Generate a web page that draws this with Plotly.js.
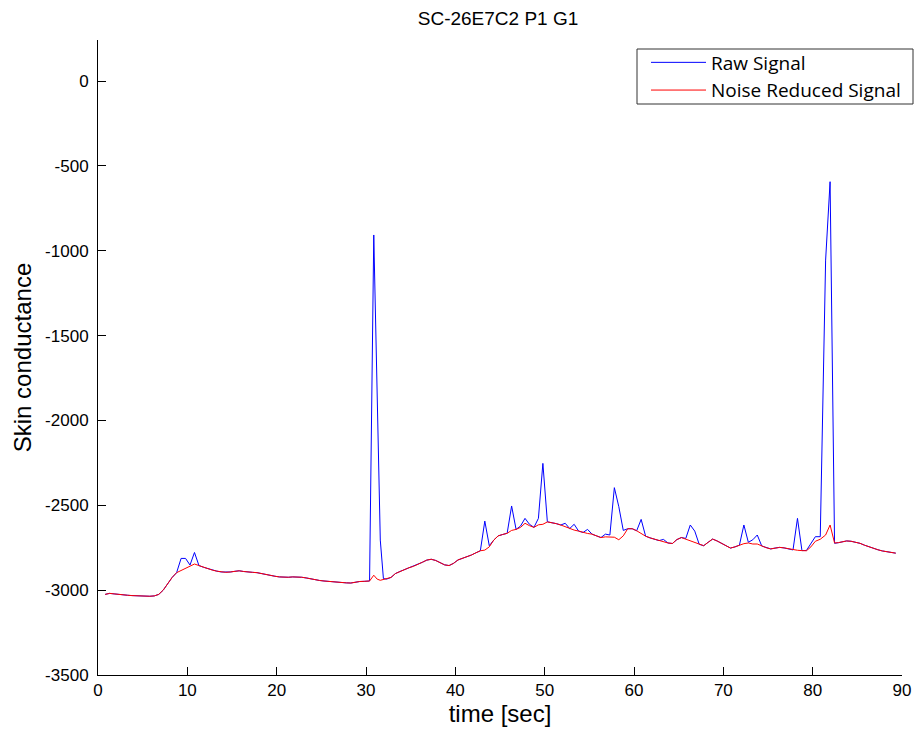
<!DOCTYPE html>
<html>
<head>
<meta charset="utf-8">
<script src="https://cdn.plot.ly/plotly-3.0.1.min.js"></script>
<style>
  html, body { margin: 0; padding: 0; background: #ffffff; }
  #chart { width: 920px; height: 731px; }
</style>
</head>
<body>
<div id="chart"></div>
<script>
// Sample times (seconds)
const timeSec = [0.8,1.3,1.8,2.3,2.8,3.3,3.8,4.3,4.8,5.3,
  5.8,6.3,6.8,7.3,7.8,8.3,8.8,9.3,9.8,10.3,
  10.8,11.3,11.8,12.3,12.8,13.3,13.8,14.3,14.8,15.3,
  15.8,16.3,16.8,17.3,17.8,18.3,18.8,19.3,19.8,20.3,
  20.8,21.3,21.8,22.3,22.8,23.3,23.8,24.3,24.8,25.3,
  25.8,26.3,26.8,27.3,27.8,28.3,28.8,29.3,29.8,
  30.4,30.87,31.25,31.6,31.95,
  32.3,32.8,33.3,33.8,34.3,34.8,35.3,35.8,36.3,36.8,
  37.3,37.8,38.3,38.8,39.3,39.8,40.3,40.8,41.3,41.8,
  42.3,42.8,43.3,43.8,44.3,44.8,45.3,45.8,46.3,46.8,
  47.3,47.8,48.3,48.8,49.3,49.8,50.3,50.8,51.3,51.8,
  52.3,52.8,53.3,53.8,54.3,54.8,55.3,55.8,56.3,56.8,
  57.3,57.8,58.3,58.8,59.3,59.8,60.3,60.8,61.3,61.8,
  62.3,62.8,63.3,63.8,64.3,64.8,65.3,65.8,66.3,66.8,
  67.3,67.8,68.3,68.8,69.3,69.8,70.3,70.8,71.3,71.8,
  72.3,72.8,73.3,73.8,74.3,74.8,75.3,75.8,76.3,76.8,
  77.3,77.8,78.3,78.8,79.3,79.8,
  80.3,80.85,81.45,81.95,82.45,82.9,
  83.3,83.8,84.3,84.8,85.3,85.8,86.3,86.8,87.3,87.8,
  88.3,88.8,89.3];

// Raw skin conductance signal
const rawSignal = [-3025,-3019,-3022,-3026,-3029,-3030,-3032,-3034,-3035,-3035,
  -3036,-3034,-3025,-3000,-2962,-2925,-2897,-2813,-2813,-2852,
  -2778,-2855,-2865,-2874,-2882,-2888,-2893,-2895,-2893,-2889,
  -2886,-2890,-2894,-2895,-2897,-2903,-2910,-2915,-2918,-2922,
  -2925,-2924,-2922,-2921,-2924,-2928,-2934,-2939,-2943,-2946,
  -2949,-2951,-2953,-2955,-2957,-2958,-2953,-2949,-2948,
  -2946,-907,-1900,-2705,-2932,
  -2935,-2925,-2902,-2890,-2880,-2868,-2860,-2850,-2836,-2823,
  -2818,-2825,-2838,-2851,-2855,-2842,-2822,-2812,-2806,-2793,
  -2780,-2768,-2593,-2738,-2705,-2680,-2672,-2665,-2504,-2642,
  -2622,-2577,-2612,-2630,-2577,-2253,-2597,-2601,-2608,-2616,
  -2606,-2637,-2612,-2652,-2660,-2642,-2670,-2680,-2690,-2670,
  -2675,-2396,-2508,-2648,-2638,-2638,-2650,-2583,-2682,-2692,
  -2700,-2708,-2701,-2722,-2725,-2702,-2690,-2695,-2616,-2652,
  -2730,-2738,-2718,-2699,-2710,-2725,-2740,-2752,-2745,-2735,
  -2616,-2718,-2703,-2675,-2740,-2750,-2757,-2752,-2748,-2751,
  -2756,-2763,-2577,-2767,-2766,-2725,
  -2685,-2685,-1055,-593,-2724,-2720,
  -2715,-2710,-2712,-2718,-2724,-2735,-2745,-2754,-2762,-2769,
  -2774,-2779,-2782];

// Filtered (noise reduced) signal
const noiseReduced = [-3025,-3019,-3022,-3026,-3029,-3030,-3032,-3034,-3035,-3035,
  -3036,-3034,-3025,-3000,-2962,-2925,-2897,-2885,-2874,-2862,
  -2846,-2855,-2865,-2874,-2882,-2888,-2893,-2895,-2893,-2889,
  -2886,-2890,-2894,-2895,-2897,-2903,-2910,-2915,-2918,-2922,
  -2925,-2924,-2922,-2921,-2924,-2928,-2934,-2939,-2943,-2946,
  -2949,-2951,-2953,-2955,-2957,-2958,-2953,-2949,-2948,
  -2946,-2912,-2935,-2942,-2937,
  -2935,-2925,-2902,-2890,-2880,-2868,-2860,-2850,-2836,-2823,
  -2818,-2825,-2838,-2851,-2855,-2842,-2822,-2812,-2806,-2793,
  -2780,-2768,-2764,-2745,-2705,-2680,-2672,-2665,-2648,-2642,
  -2630,-2606,-2620,-2630,-2615,-2612,-2598,-2601,-2608,-2616,
  -2626,-2637,-2646,-2652,-2660,-2666,-2670,-2680,-2690,-2686,
  -2685,-2688,-2703,-2680,-2638,-2638,-2650,-2668,-2682,-2692,
  -2700,-2708,-2712,-2722,-2725,-2702,-2690,-2700,-2710,-2718,
  -2730,-2738,-2718,-2699,-2710,-2725,-2740,-2752,-2745,-2735,
  -2726,-2722,-2728,-2728,-2740,-2750,-2757,-2752,-2748,-2751,
  -2756,-2763,-2765,-2767,-2768,-2745,
  -2712,-2700,-2675,-2616,-2722,-2720,
  -2715,-2710,-2712,-2718,-2724,-2735,-2745,-2754,-2762,-2769,
  -2774,-2779,-2782];

const xTicks = [0,10,20,30,40,50,60,70,80,90];
const yTicks = [-3500,-3000,-2500,-2000,-1500,-1000,-500,0];

const sansFamily = 'Liberation Sans, Arial, sans-serif';
const tickFont = { family: sansFamily, size: 17, color: '#000000' };

// Pixel geometry of the figure: the paper runs from the left margin to the
// right edge, and the axes occupy only part of it so the legend frame can
// overhang the end of the x axis.
const W = 920, H = 731;
const mL = 98, mT = 40, mB = 56;
const paperW = W - mL;             // 822
const plotH = H - mT - mB;         // 635
const axisRightPx = 902;
const px2x = px => (px - mL) / paperW;
const px2y = py => (H - mB - py) / plotH;

const traces = [
  {
    x: timeSec, y: rawSignal, type: 'scatter', mode: 'lines',
    name: 'Raw Signal',
    line: { color: '#0000ff', width: 1 }
  },
  {
    x: timeSec, y: noiseReduced, type: 'scatter', mode: 'lines',
    name: 'Noise Reduced Signal',
    line: { color: '#ff0000', width: 1 }
  }
];

const layout = {
  width: W, height: H,
  paper_bgcolor: '#ffffff', plot_bgcolor: '#ffffff',
  margin: { l: mL, r: 0, t: mT, b: mB },
  title: {
    text: 'SC-26E7C2 P1 G1',
    font: { family: sansFamily, size: 19, color: '#000000' },
    x: 498 / W, xref: 'container', xanchor: 'center',
    y: 1 - 18 / H, yanchor: 'middle'
  },
  xaxis: {
    domain: [0, px2x(axisRightPx)],
    range: [0, 90], tickvals: xTicks, ticktext: xTicks.map(String),
    ticks: 'inside', ticklen: 8, tickcolor: '#000000', tickwidth: 1,
    showline: true, linecolor: '#000000', linewidth: 1, mirror: false,
    showgrid: false, zeroline: false, tickfont: tickFont,
    title: { text: 'time [sec]', font: { family: sansFamily, size: 24, color: '#000000' }, standoff: 5 },
    automargin: false
  },
  yaxis: {
    range: [-3500, 242], tickvals: yTicks, ticktext: yTicks.map(String),
    ticks: 'inside', ticklen: 8, tickcolor: '#000000', tickwidth: 1,
    showline: true, linecolor: '#000000', linewidth: 1, mirror: false,
    showgrid: false, zeroline: false, tickfont: tickFont, ticklabelstandoff: 5,
    title: { text: 'Skin conductance', font: { family: sansFamily, size: 24, color: '#000000' }, standoff: 6 },
    automargin: false
  },
  // Legend frame
  shapes: [{
    type: 'rect', xref: 'paper', yref: 'paper', layer: 'above',
    x0: px2x(637), x1: px2x(913), y0: px2y(104), y1: px2y(49),
    line: { color: '#333333', width: 1 }, fillcolor: '#ffffff'
  }],
  showlegend: true,
  legend: {
    x: px2x(646), xanchor: 'left',
    y: px2y(43.5), yanchor: 'top',
    bgcolor: 'rgba(255,255,255,0)', borderwidth: 0,
    font: { family: 'Open Sans, sans-serif', size: 19, color: '#000000' },
    itemwidth: 55, tracegroupgap: 0
  }
};

Plotly.newPlot('chart', traces, layout, { displayModeBar: false, staticPlot: true });
</script>
</body>
</html>
